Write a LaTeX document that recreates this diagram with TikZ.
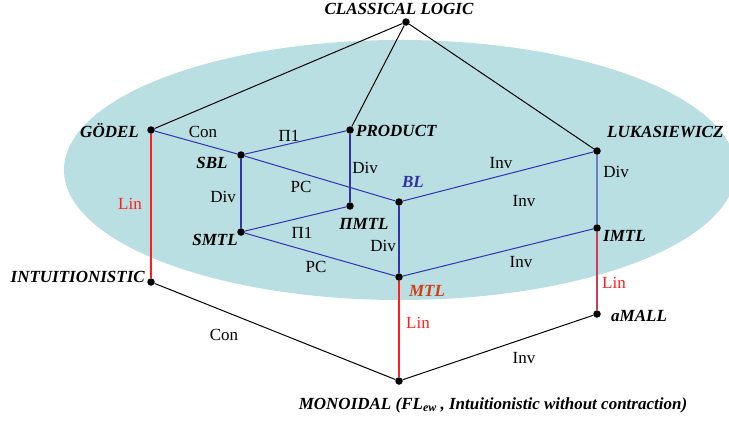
\documentclass[tikz,border=0pt]{standalone}
\usepackage{fontspec}
\setmainfont{Liberation Serif}
\begin{document}
\begin{tikzpicture}[x=1pt,y=-1pt,
  dot/.style={circle,fill=black,inner sep=0pt,minimum size=7.5pt},
  lbl/.style={inner sep=0pt,font=\fontsize{17}{19}\selectfont},
  nm/.style={inner sep=0pt,font=\fontsize{17}{19}\selectfont\bfseries\itshape},
  bl/.style={draw=bluel,line width=1pt},
  rl/.style={draw=redl,line width=1.5pt},
  kl/.style={draw=black,line width=1pt},
  vb/.style={draw=bluel,line width=1.5pt}]
\definecolor{ellc}{RGB}{185,223,227}
\definecolor{bluel}{RGB}{50,50,170}
\definecolor{bluelight}{RGB}{110,125,200}
\definecolor{redl}{RGB}{255,30,30}
\definecolor{redp}{RGB}{205,60,90}
\definecolor{bltxt}{RGB}{50,50,160}
\definecolor{mtltxt}{RGB}{210,60,20}
\useasboundingbox (0,0) rectangle (729,423);
\fill[ellc] (400,170) ellipse [x radius=336, y radius=130];
% dots
\node[dot] (cl) at (406,22) {};
\node[dot] (god) at (151,130) {};
\node[dot] (prod) at (350,130) {};
\node[dot] (sbl) at (241,155) {};
\node[dot] (bl) at (399,202) {};
\node[dot] (pmtl) at (350,206) {};
\node[dot] (smtl) at (241,232) {};
\node[dot] (mtl) at (399,277) {};
\node[dot] (int) at (151,282) {};
\node[dot] (luk) at (597,151) {};
\node[dot] (imtl) at (597,228) {};
\node[dot] (amall) at (597,314) {};
\node[dot] (mon) at (399,381) {};
% black
\draw[kl] (cl) -- (god);
\draw[kl] (cl) -- (prod);
\draw[kl] (cl) -- (luk);
\draw[kl] (int) -- (mon);
\draw[kl] (mon) -- (amall);
% blue
\draw[bl] (god) -- (sbl);
\draw[bl] (sbl) -- (bl);
\draw[bl] (sbl) -- (prod);
\draw[vb] (sbl) -- (smtl);
\draw[vb] (prod) -- (pmtl);
\draw[bl] (smtl) -- (pmtl);
\draw[bl] (smtl) -- (mtl);
\draw[bl] (bl) -- (luk);
\draw[vb] (bl) -- (mtl);
\draw[bl] (mtl) -- (imtl);
\draw[draw=bluelight,line width=1.5pt] (luk) -- (imtl);
% red
\draw[rl] (god) -- (int);
\draw[rl] (mtl) -- (mon);
\draw[draw=redp,line width=1.5pt] (imtl) -- (amall);
% names
\node[nm] (tcl) at (399,9) {CLASSICAL LOGIC};
\node[nm,anchor=east] (tgod) at (139,131) {GÖDEL};
\node[nm,anchor=west] (tprod) at (356,131) {PRODUCT};
\node[nm,anchor=west] (tluk) at (607,132) {LUKASIEWICZ};
\node[nm] (tsbl) at (212,163) {SBL};
\node[nm,text=bltxt] (tbl) at (413,182) {BL};
\node[nm] (tpmtl) at (364,224) {ΠMTL};
\node[nm] (tsmtl) at (215,240) {SMTL};
\node[nm,anchor=west] (timtl) at (603,236) {IMTL};
\node[nm,anchor=east] (tint) at (145,277) {INTUITIONISTIC};
\node[nm,text=mtltxt] (tmtl) at (427,291) {MTL};
\node[nm,anchor=west] (tamall) at (611,316) {aMALL};
\node[nm] (tmon) at (493,405) {MONOIDAL (FL\raisebox{-0.35ex}{\fontsize{12}{13}\selectfont ew} , Intuitionistic without contraction)};
% edge labels
\node[lbl] (l1) at (203,132) {Con};
\node[lbl] (l2) at (289,136) {Π1};
\node[lbl] (l3) at (365,168) {Div};
\node[lbl] (l4) at (301,187) {PC};
\node[lbl] (l5) at (501,163) {Inv};
\node[lbl] (l6) at (616,172) {Div};
\node[lbl] (l7) at (524,201) {Inv};
\node[lbl] (l8) at (223,197) {Div};
\node[lbl,text=redl] (l9) at (130,204) {Lin};
\node[lbl] (l10) at (302,233) {Π1};
\node[lbl] (l11) at (383,246) {Div};
\node[lbl] (l12) at (316,267) {PC};
\node[lbl] (l13) at (521,262) {Inv};
\node[lbl,text=redl] (l14) at (614,283) {Lin};
\node[lbl,text=redl] (l15) at (418,323) {Lin};
\node[lbl] (l16) at (224,335) {Con};
\node[lbl] (l17) at (524,358) {Inv};
\end{tikzpicture}
\end{document}
